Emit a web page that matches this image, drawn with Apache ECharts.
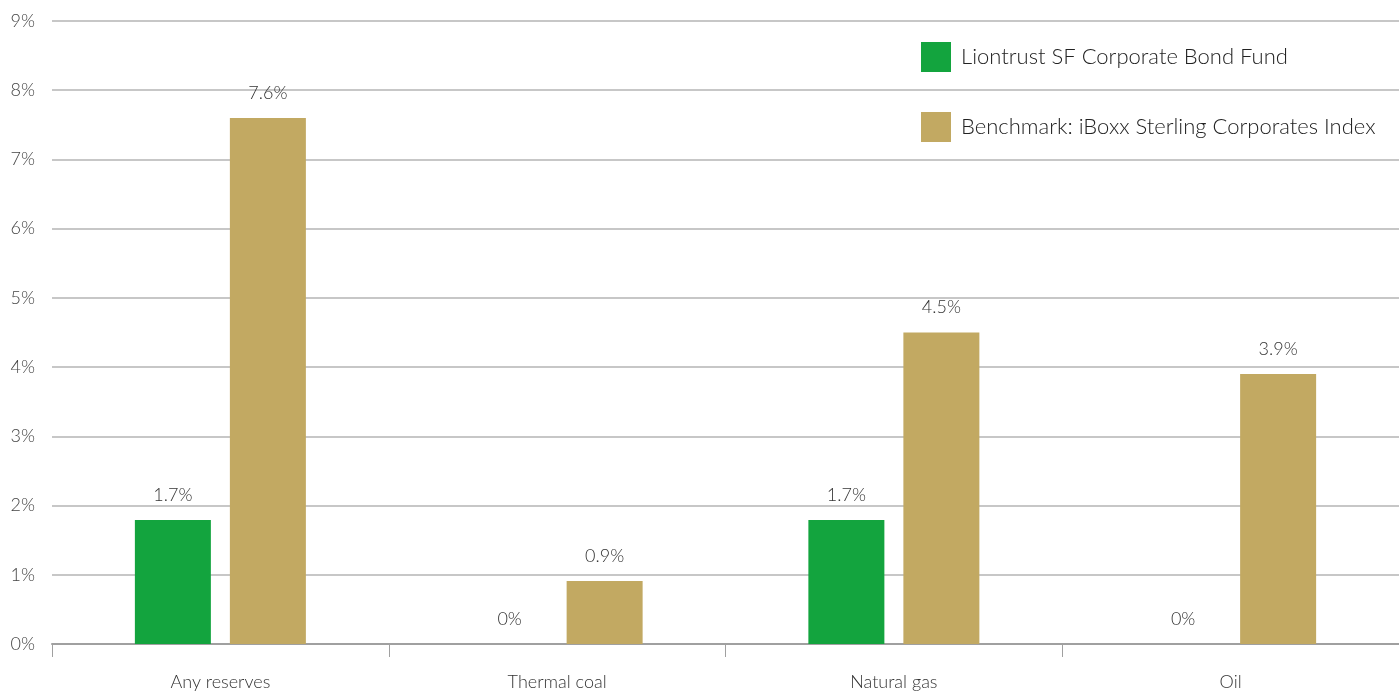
<!DOCTYPE html>
<html>
<head>
<meta charset="utf-8">
<script src="https://cdn.jsdelivr.net/npm/echarts@6/dist/echarts.min.js"></script>
<style>
  html, body { margin: 0; padding: 0; background: #fff; }
  #chart { width: 1399px; height: 693px; }
</style>
</head>
<body>
<div id="chart"></div>
<script>
var categories = ['Any reserves', 'Thermal coal', 'Natural gas', 'Oil'];
var fundName = 'Liontrust SF Corporate Bond Fund';
var benchName = 'Benchmark: iBoxx Sterling Corporates Index';
// bar heights as drawn, labels as printed
var fundValues = [1.79, 0, 1.79, 0];
var fundLabels = ['1.7%', '0%', '1.7%', '0%'];
var benchValues = [7.6, 0.91, 4.5, 3.9];
var benchLabels = ['7.6%', '0.9%', '4.5%', '3.9%'];

var font = 'Lato, "DejaVu Sans", sans-serif';
var chart = echarts.init(document.getElementById('chart'));

var option = {
  animation: false,
  textStyle: { fontFamily: font },
  grid: { left: 52, right: 0, top: 21, bottom: 49 },
  legend: {
    orient: 'vertical',
    left: 921,
    top: 42,
    padding: 0,
    itemWidth: 30,
    itemHeight: 30,
    itemGap: 40,
    icon: 'rect',
    textStyle: { fontFamily: font, fontSize: 22, fontWeight: 300, color: '#222', padding: [3, 0, 0, 5] },
    data: [fundName, benchName]
  },
  xAxis: {
    type: 'category',
    data: categories,
    axisLine: { lineStyle: { color: '#a0a0a0', width: 2 } },
    axisTick: { show: true, length: 13, lineStyle: { color: '#a0a0a0', width: 1 } },
    axisLabel: { fontSize: 18, fontWeight: 300, color: '#333', margin: 29 }
  },
  yAxis: {
    type: 'value',
    min: 0,
    max: 9,
    interval: 1,
    axisLine: { show: false },
    axisTick: { show: false },
    axisLabel: { fontSize: 18, fontWeight: 300, color: '#444', margin: 17, formatter: '{value}%' },
    splitLine: { lineStyle: { color: '#b4b4b4', width: 1.5 } }
  },
  series: [
    {
      name: fundName,
      type: 'bar',
      data: fundValues,
      barWidth: 76,
      barGap: '25%',
      itemStyle: { color: '#13a43e' },
      label: {
        show: true,
        position: 'top',
        distance: 16,
        fontSize: 18,
        fontWeight: 300,
        color: '#333',
        formatter: function (p) { return fundLabels[p.dataIndex]; }
      }
    },
    {
      name: benchName,
      type: 'bar',
      data: benchValues,
      barWidth: 76,
      itemStyle: { color: '#c2a962' },
      label: {
        show: true,
        position: 'top',
        distance: 16,
        fontSize: 18,
        fontWeight: 300,
        color: '#333',
        formatter: function (p) { return benchLabels[p.dataIndex]; }
      }
    }
  ]
};
chart.setOption(option);
</script>
</body>
</html>
